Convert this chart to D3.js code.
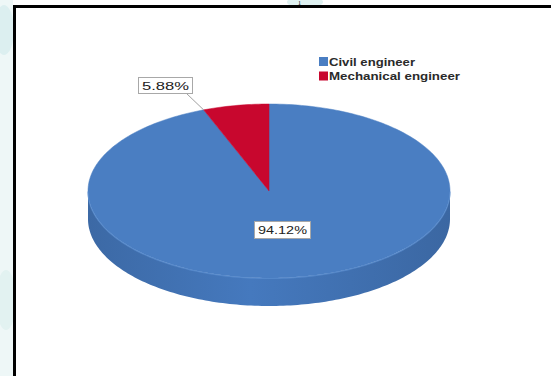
<!DOCTYPE html>
<html><head><meta charset="utf-8">
<script src="https://cdn.jsdelivr.net/npm/d3@7"></script>
<style>html,body{margin:0;padding:0;background:#fff;overflow:hidden}</style>
</head><body>
<svg id="c" width="551" height="376"></svg>
<script>
const categories = ["Civil engineer", "Mechanical engineer"];
const values = [94.12, 5.88];
const labels = ["94.12%", "5.88%"];
const colors = ["#4a7ec2", "#c8072e"];
const sideColors = ["#3f6fae", "#9e0422"];

const svg = d3.select("#c");
const W = 551, H = 376;

// faint background blobs outside the frame
svg.append("rect").attr("x",0).attr("y",0).attr("width",W).attr("height",H).attr("fill","#fff");
svg.append("rect").attr("x",0).attr("y",0).attr("width",13).attr("height",H).attr("fill","#eef7f7");
svg.append("ellipse").attr("cx",4).attr("cy",30).attr("rx",10).attr("ry",25).attr("fill","#dceff0");
svg.append("ellipse").attr("cx",6).attr("cy",300).attr("rx",10).attr("ry",30).attr("fill","#e2f2f1");
svg.append("ellipse").attr("cx",305).attr("cy",2).attr("rx",18).attr("ry",6).attr("fill","#dff1f1");
svg.append("text").attr("x",298).attr("y",5).attr("font-family","Liberation Serif").attr("font-size",6).attr("fill","#000").text("1");

// frame
svg.append("rect").attr("x",13).attr("y",5).attr("width",W).attr("height",H).attr("fill","#fff");
svg.append("line").attr("x1",14.5).attr("y1",5).attr("x2",14.5).attr("y2",H).attr("stroke","#000").attr("stroke-width",3);
svg.append("line").attr("x1",13).attr("y1",6.5).attr("x2",W).attr("y2",6.5).attr("stroke","#000").attr("stroke-width",3);

// 3D pie
const cx = 269, cy = 191, rx = 181, ry = 87, depth = 28;
const pie = d3.pie().sort(null).value(d => d)(values);
const pt = (a, dy=0) => [cx + rx*Math.sin(a), cy - ry*Math.cos(a) + dy];

function arcPts(a0, a1, dy=0) {
  const n = Math.max(2, Math.ceil(Math.abs(a1-a0)/0.02));
  return d3.range(n+1).map(i => pt(a0 + (a1-a0)*i/n, dy));
}
const line = d3.line();

const g = svg.append("g");
// side walls (front half: angles between PI/2 and 3PI/2)
pie.forEach((s, i) => {
  const a0 = Math.max(s.startAngle, Math.PI/2), a1 = Math.min(s.endAngle, 3*Math.PI/2);
  if (a1 <= a0) return;
  const top = arcPts(a0, a1, 0), bot = arcPts(a1, a0, depth);
  const grad = svg.append("defs").append("linearGradient").attr("id","sg"+i)
    .attr("x1","0").attr("x2","1").attr("y1","0").attr("y2","0");
  grad.append("stop").attr("offset","0").attr("stop-color", d3.color(sideColors[i]).darker(0.15));
  grad.append("stop").attr("offset","0.45").attr("stop-color", d3.color(sideColors[i]).brighter(0.25));
  grad.append("stop").attr("offset","1").attr("stop-color", d3.color(sideColors[i]).darker(0.2));
  g.append("path").attr("d", line(top.concat(bot)) + "Z").attr("fill","url(#sg"+i+")");
});
// top surface
pie.forEach((s, i) => {
  const pts = [[cx, cy]].concat(arcPts(s.startAngle, s.endAngle));
  g.append("path").attr("d", line(pts) + "Z").attr("fill", colors[i])
    .attr("stroke", colors[i]).attr("stroke-width", 0.5);
});
// subtle rim highlight on front edge
g.append("path").attr("d", line(arcPts(Math.PI/2, 3*Math.PI/2, 0.5)))
  .attr("fill","none").attr("stroke","#5b8fd0").attr("stroke-width",1.2).attr("opacity",0.7);

// labels
function labelBox(x, y, w, h, txt) {
  svg.append("rect").attr("x",x).attr("y",y).attr("width",w).attr("height",h)
    .attr("fill","#fff").attr("stroke","#a8a8a8").attr("stroke-width",1);
  svg.append("text").attr("x",x+w/2).attr("y",y+h/2+4).attr("text-anchor","middle")
    .attr("font-family","Liberation Sans, Arial").attr("font-size",11.5).attr("fill","#222")
    .attr("textLength", w-7).attr("lengthAdjust","spacingAndGlyphs").text(txt);
}
// leader for small slice
const edge = pt(pie[1].startAngle);
svg.append("line").attr("x1",186).attr("y1",93).attr("x2",edge[0]).attr("y2",edge[1])
  .attr("stroke","#a0a0a0").attr("stroke-width",1);
labelBox(138.5, 77.5, 54, 16, labels[1]);
labelBox(254.5, 221.5, 56, 17, labels[0]);

// legend
const lg = svg.append("g");
categories.forEach((c, i) => {
  const y = 57 + i*14.5;
  lg.append("rect").attr("x",319).attr("y",y).attr("width",9).attr("height",9).attr("fill",colors[i]);
  lg.append("text").attr("x",329).attr("y",y+8.5).attr("font-family","Liberation Sans, Arial")
    .attr("font-size",11.5).attr("font-weight","bold").attr("fill","#2a2a2a")
    .attr("textLength", i===0 ? 86 : 131).attr("lengthAdjust","spacingAndGlyphs").text(c);
});
</script>
</body></html>
